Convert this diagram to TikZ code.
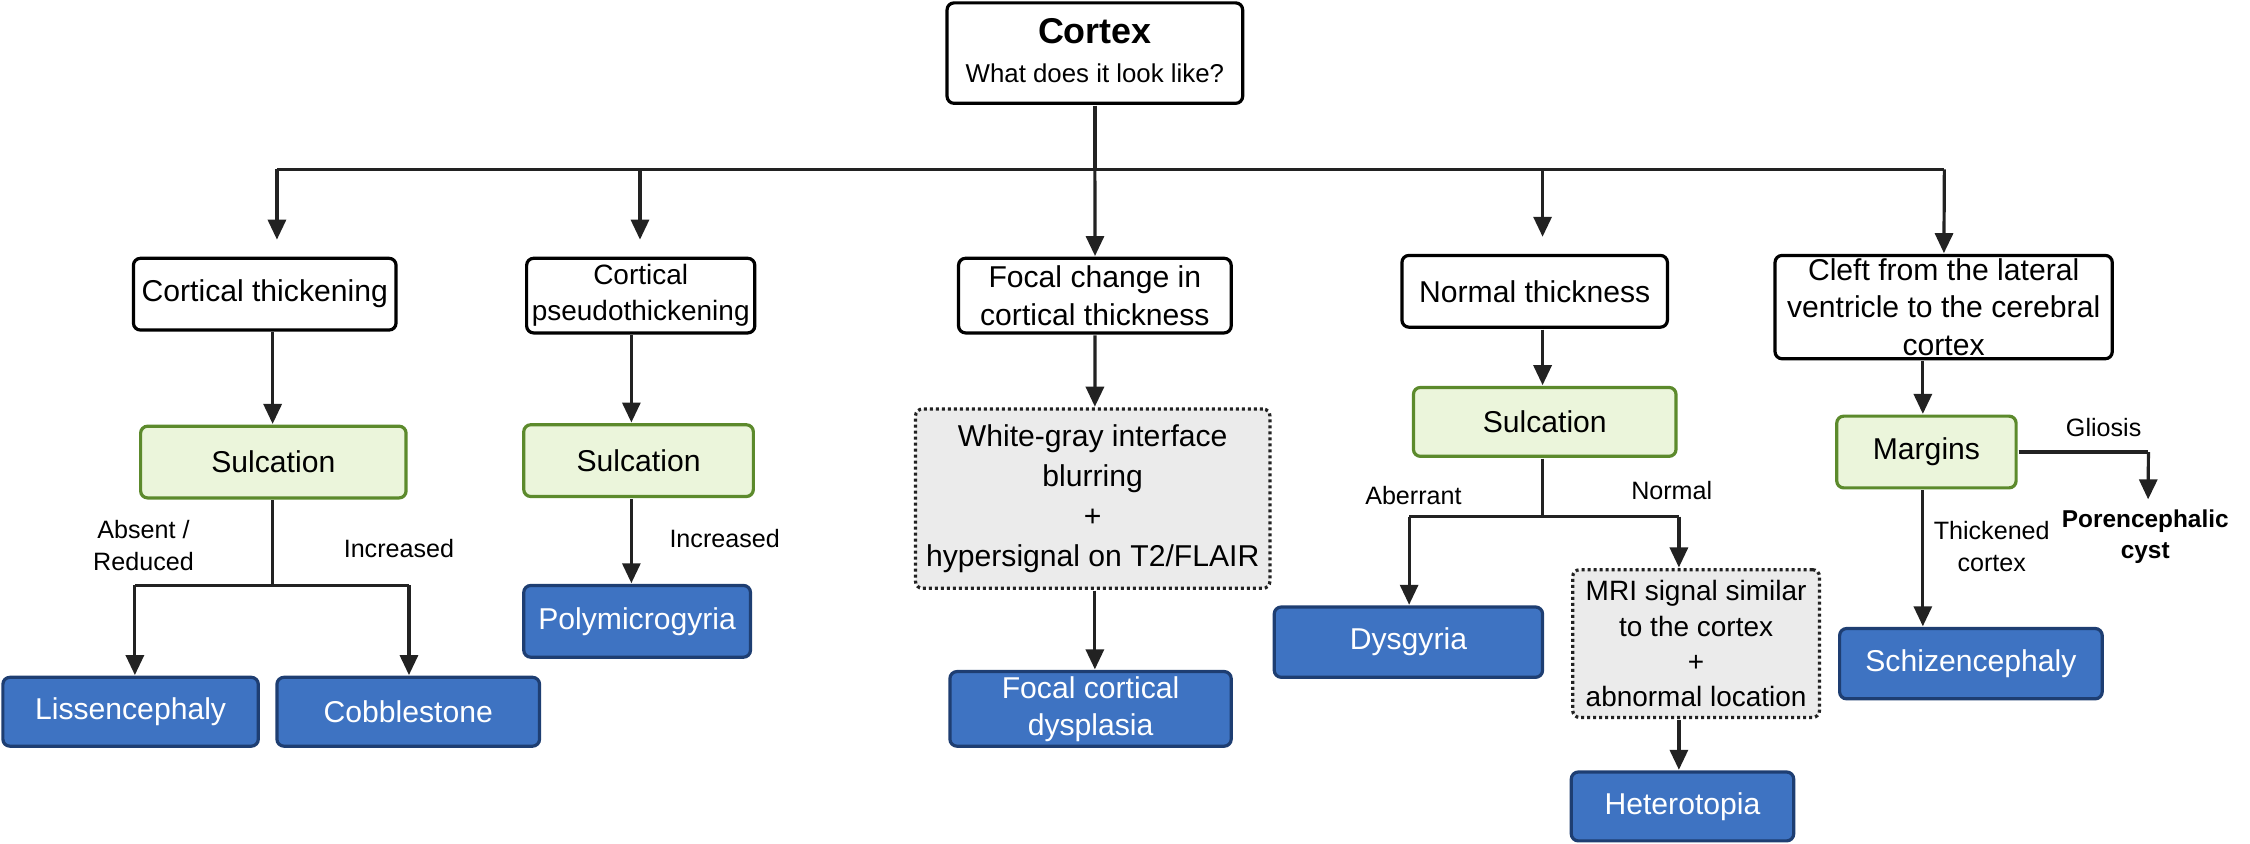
\documentclass[tikz,border=0pt]{standalone}
\usepackage{fontspec}
\setmainfont{Liberation Sans}
\usetikzlibrary{arrows.meta}
\definecolor{bfill}{HTML}{3E73C2}
\definecolor{bdraw}{HTML}{1E3E72}
\definecolor{gfill}{HTML}{EBF5DB}
\definecolor{gdraw}{HTML}{5C8A2C}
\definecolor{grfill}{HTML}{EBEBEB}
\definecolor{ln}{HTML}{222222}
\begin{document}
\begin{tikzpicture}[x=1pt,y=-1pt,scale=1.435,transform shape,
 box/.style={draw=black,line width=3.2pt,rounded corners=7pt,fill=white,align=center,font=\fontsize{21}{26}\selectfont,inner sep=0pt},
 sul/.style={box,draw=gdraw,fill=gfill},
 blu/.style={box,draw=bdraw,fill=bfill,text=white},
 gry/.style={box,draw=ln,fill=grfill,dash pattern=on 3pt off 3pt,line width=3.2pt},
 lab/.style={font=\fontsize{17.5}{22}\selectfont,align=center},
 ar/.style={draw=ln,line width=3.2pt,-{Triangle[length=20pt,width=18pt]}},
 li/.style={draw=ln,line width=3.2pt}]
\useasboundingbox (0,0) rectangle (1568,588);
\node[box,minimum width=206,minimum height=70] (cx) at (763,37) {};
\node at (763,22) {\fontsize{25}{30}\selectfont\bfseries Cortex};
\node at (763,51) {\fontsize{18}{22}\selectfont What does it look like?};
\node[box,minimum width=183,minimum height=50] (b1) at (184.5,205) {Cortical thickening};
\node[box,minimum width=159,minimum height=52,font=\fontsize{19.5}{25}\selectfont] (b2) at (446.5,206) {Cortical\\pseudothickening};
\node[box,minimum width=190,minimum height=52] (b3) at (763,206) {Focal change in\\cortical thickness};
\node[box,minimum width=185,minimum height=50] (b4) at (1069.5,203) {Normal thickness};
\node[box,minimum width=235,minimum height=72] (b5) at (1354.5,214) {Cleft from the lateral\\ventricle to the cerebral\\cortex};
\node[sul,minimum width=185,minimum height=50] (s1) at (190.5,322) {Sulcation};
\node[sul,minimum width=160,minimum height=50] (s2) at (445,321) {Sulcation};
\node[gry,minimum width=247,minimum height=125] (g1) at (761.5,347.5) {};
\node[align=center,font=\fontsize{21}{28}\selectfont] at (761.5,347.5) {White-gray interface\\blurring\\+\\hypersignal on T2/FLAIR};
\node[sul,minimum width=183,minimum height=48] (s4) at (1076.5,294) {Sulcation};
\node[sul,minimum width=125,minimum height=50] (m) at (1342.5,315) {Margins};
\node[blu,minimum width=178,minimum height=48] (l1) at (91,496) {Lissencephaly};
\node[blu,minimum width=183,minimum height=48] (l2) at (284.5,496) {Cobblestone};
\node[blu,minimum width=158,minimum height=50] (l3) at (444,433) {Polymicrogyria};
\node[blu,minimum width=196,minimum height=52] (l4) at (760,494) {Focal cortical\\dysplasia};
\node[blu,minimum width=187,minimum height=49] (l5) at (981.5,447.5) {Dysgyria};
\node[gry,minimum width=172,minimum height=103] (g2) at (1182,448.5) {};
\node[align=center,font=\fontsize{19.5}{24.5}\selectfont] at (1182,448.5) {MRI signal similar\\to the cortex\\+\\abnormal location};
\node[blu,minimum width=155,minimum height=48] (l6) at (1172.5,562) {Heterotopia};
\node[blu,minimum width=183,minimum height=49] (l7) at (1373.5,462.5) {Schizencephaly};
% trunk
\coordinate (t0) at (763,118);
\path[li] (cx.south) -- (t0);
\path[li] (193,118) -- (1355,118);
\path[ar] (193,118) -- (193,167);
\path[ar] (446,118) -- (446,167);
\path[ar] (763,118) -- (b3.north);
\path[ar] (1075,118) -- (1075,165);
\path[ar] (1355,118) -- (b5.north);
\path[ar] (b1.south -| 190,0) -- (s1.north -| 190,0);
\path[ar] (b2.south -| 440,0) -- (s2.north -| 440,0);
\path[ar] (b3.south) -- (g1.north -| 763,0);
\path[ar] (b4.south -| 1075,0) -- (s4.north -| 1075,0);
\path[ar] (b5.south -| 1340,0) -- (m.north -| 1340,0);
% s1
\path[li] (s1.south -| 190,0) -- (190,408);
\path[li] (94,408) -- (285,408);
\path[ar] (94,408) -- (l1.north -| 94,0);
\path[ar] (285,408) -- (l2.north -| 285,0);
\node[lab] at (100,380) {Absent /\\Reduced};
\node[lab] at (278,382) {Increased};
\path[ar] (s2.south -| 440,0) -- (l3.north -| 440,0);
\node[lab] at (505,375) {Increased};
\path[ar] (g1.south -| 763,0) -- (l4.north -| 763,0);
% s4
\path[li] (s4.south -| 1075,0) -- (1075,360);
\path[li] (982,360) -- (1170,360);
\path[ar] (982,360) -- (l5.north -| 982,0);
\path[ar] (1170,360) -- (g2.north -| 1170,0);
\node[lab] at (985,345) {Aberrant};
\node[lab] at (1165,342) {Normal};
\path[ar] (g2.south -| 1170,0) -- (l6.north -| 1170,0);
% margins
\coordinate (gc) at (1497,315);
\path[li] (m.east) -- (gc);
\path[ar] (gc) -- (1497,348);
\node[lab] at (1466,298) {Gliosis};
\node[lab,font=\fontsize{17}{22}\selectfont\bfseries] at (1495,374) {Porencephalic\\cyst};
\path[ar] (m.south -| 1340,0) -- (l7.north -| 1340,0);
\node[lab] at (1388,381) {Thickened\\cortex};
\end{tikzpicture}
\end{document}
